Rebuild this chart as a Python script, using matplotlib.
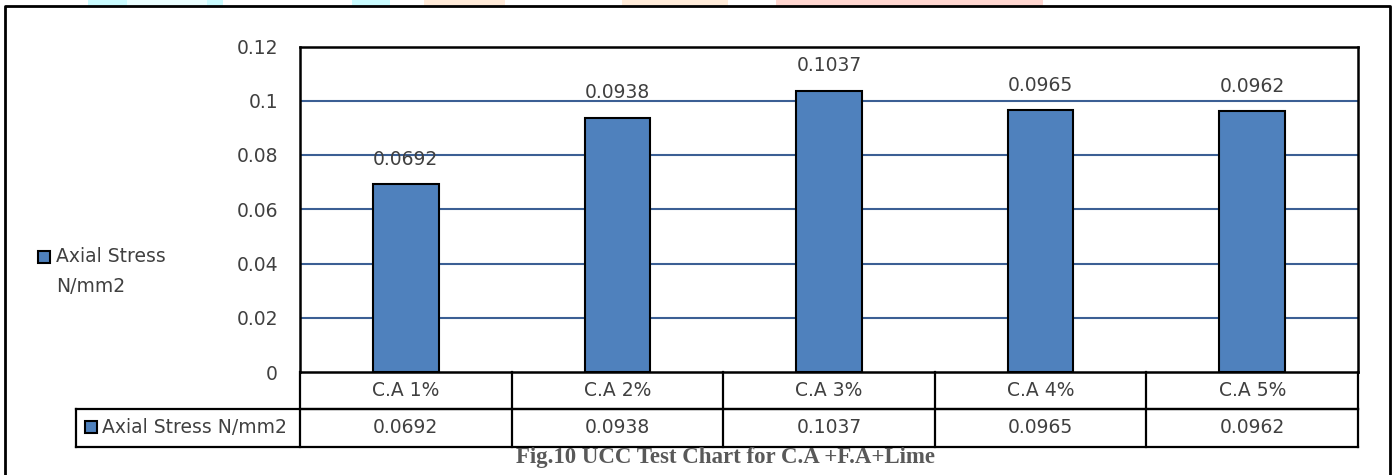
import matplotlib
matplotlib.use("Agg")
import matplotlib.pyplot as plt
from matplotlib.patches import Rectangle

# ---- data ----
categories = ["C.A 1%", "C.A 2%", "C.A 3%", "C.A 4%", "C.A 5%"]
axial_stress = [0.0692, 0.0938, 0.1037, 0.0965, 0.0962]
series_name = "Axial Stress N/mm2"
y_ticks = [0, 0.02, 0.04, 0.06, 0.08, 0.1, 0.12]
y_tick_labels = ["0", "0.02", "0.04", "0.06", "0.08", "0.1", "0.12"]
caption = "Fig.10 UCC Test Chart for C.A +F.A+Lime"

W, H = 1399, 475
BAR = "#4F81BD"
GRID = "#3B5F94"
TXT = "#404040"
FONT = "DejaVu Sans"
FS = 13.5

fig = plt.figure(figsize=(W / 100, H / 100), dpi=100)

# plot area in pixel coordinates
px_l, px_r, px_t, px_b = 300, 1358, 46.5, 372
ax = fig.add_axes([px_l / W, 1 - px_b / H, (px_r - px_l) / W, (px_b - px_t) / H])
x = list(range(len(categories)))
ax.bar(x, axial_stress, width=0.31, color=BAR, edgecolor="black", linewidth=1.5, zorder=3)
ax.set_xlim(-0.5, len(categories) - 0.5)
ax.set_ylim(0, 0.12)
ax.set_yticks(y_ticks)
ax.set_yticklabels(y_tick_labels, fontsize=FS, color=TXT, family=FONT)
ax.tick_params(axis="y", length=0, pad=15.8)
ax.set_xticks([])
for yv in y_ticks[1:-1]:
    ax.axhline(yv, color=GRID, linewidth=1.5, zorder=1)
for s in ax.spines.values():
    s.set_color("black")
    s.set_linewidth(1.8)
for xi, v in zip(x, axial_stress):
    ax.annotate(f"{v:.4f}", (xi, v), xytext=(0, 11), textcoords="offset points",
                ha="center", va="bottom", fontsize=FS, color=TXT, family=FONT)

# overlay in pixel coordinates for frame, data table, legend and caption
ov = fig.add_axes([0, 0, 1, 1], zorder=5)
ov.set_xlim(0, W)
ov.set_ylim(H, 0)
ov.axis("off")
ov.patch.set_alpha(0)

# faint coloured strips along the top edge
strips = [(88, 127, "#c9fbff"), (127, 207, "#eafeff"), (207, 223, "#c9fbff"),
          (352, 390, "#c9fbff"), (424, 505, "#ffead8"), (622, 728, "#ffebd9"),
          (776, 1043, "#ffd6d0")]
for a, b, c in strips:
    ov.add_patch(Rectangle((a, 0), b - a, 5.5, color=c, lw=0))

# outer frame
ov.plot([5, 5, 1390, 1390], [H + 5, 6, 6, H + 5], color="black", lw=2)

# data table
col_w = (px_r - px_l) / len(categories)
row1_b, row2_b = 409, 446.5
leg_l = 76
kw = dict(color="black", lw=1.6, solid_capstyle="projecting")
ov.plot([px_l, px_r], [row1_b, row1_b], **kw)
ov.plot([leg_l, px_r], [row1_b, row1_b], **kw)
ov.plot([leg_l, px_r], [row2_b, row2_b], **kw)
ov.plot([leg_l, leg_l], [row1_b, row2_b], **kw)
for i in range(len(categories) + 1):
    xx = px_l + i * col_w
    ov.plot([xx, xx], [px_b, row2_b], **kw)
for i, (cat, v) in enumerate(zip(categories, axial_stress)):
    cx = px_l + (i + 0.5) * col_w
    ov.text(cx, (px_b + row1_b) / 2, cat, ha="center", va="center",
            fontsize=FS, color=TXT, family=FONT)
    ov.text(cx, (row1_b + row2_b) / 2, f"{v:.4f}", ha="center", va="center",
            fontsize=FS, color=TXT, family=FONT)

# legend key inside the table
ov.add_patch(Rectangle((85, 421), 12, 12, facecolor=BAR, edgecolor="black", lw=1.5))
ov.text(102, (row1_b + row2_b) / 2, series_name, ha="left", va="center",
        fontsize=FS, color=TXT, family=FONT)

# side legend
ov.add_patch(Rectangle((38, 251), 12, 12, facecolor=BAR, edgecolor="black", lw=1.5))
ov.text(56, 257, "Axial Stress", ha="left", va="center", fontsize=FS, color=TXT, family=FONT)
ov.text(56, 287, "N/mm2", ha="left", va="center", fontsize=FS, color=TXT, family=FONT)

# caption
ov.text(725, 457, caption, ha="center", va="center", fontsize=16.5,
        fontweight="bold", color="#595959", family="Liberation Serif")

fig.savefig("out.png", dpi=100)
